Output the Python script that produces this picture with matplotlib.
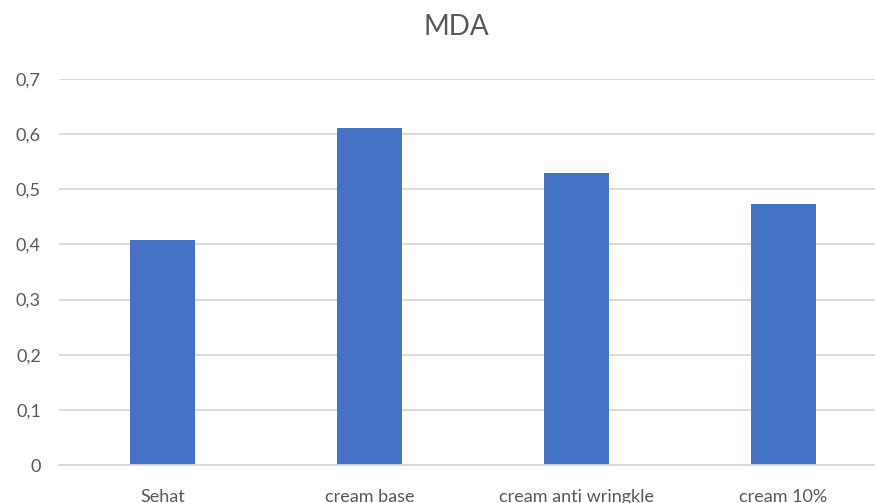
import numpy as np
import matplotlib.pyplot as plt

plt.rcParams['font.family'] = ['Lato', 'DejaVu Sans']

categories = ['Sehat', 'cream base', 'cream anti wringkle', 'cream 10%']
mda = [0.408, 0.611, 0.530, 0.473]
yticks = [0, 0.1, 0.2, 0.3, 0.4, 0.5, 0.6, 0.7]
ytick_labels = ['0', '0,1', '0,2', '0,3', '0,4', '0,5', '0,6', '0,7']

fig = plt.figure(figsize=(8.75, 5.03), dpi=100)
ax = fig.add_axes([59 / 875, 38 / 503, 1 - 59 / 875, 386 / 503])

x = np.arange(len(categories))
ax.bar(x, mda, width=0.314, color='#4472C4', zorder=3)

ax.set_xlim(-0.5, 3.442)
ax.set_ylim(0, 0.7)
ax.set_yticks(yticks)
ax.set_yticklabels(ytick_labels)
ax.set_xticks(x)
ax.set_xticklabels(categories)

ax.grid(True, axis='y', color='#d9d9d9', linewidth=1.3, zorder=0)
for s in ['top', 'right', 'left']:
    ax.spines[s].set_visible(False)
ax.spines['bottom'].set_color('#d9d9d9')
ax.spines['bottom'].set_linewidth(1.3)
ax.spines['bottom'].set_zorder(4)

ax.tick_params(axis='y', length=0, pad=13, labelsize=13, labelcolor='#595959')
ax.tick_params(axis='x', length=0, pad=17, labelsize=13, labelcolor='#595959')

fig.text(456 / 875, 1 - 27 / 503, 'MDA', ha='center', va='center',
         fontsize=20, color='#595959')

fig.savefig('out.png', dpi=100)
